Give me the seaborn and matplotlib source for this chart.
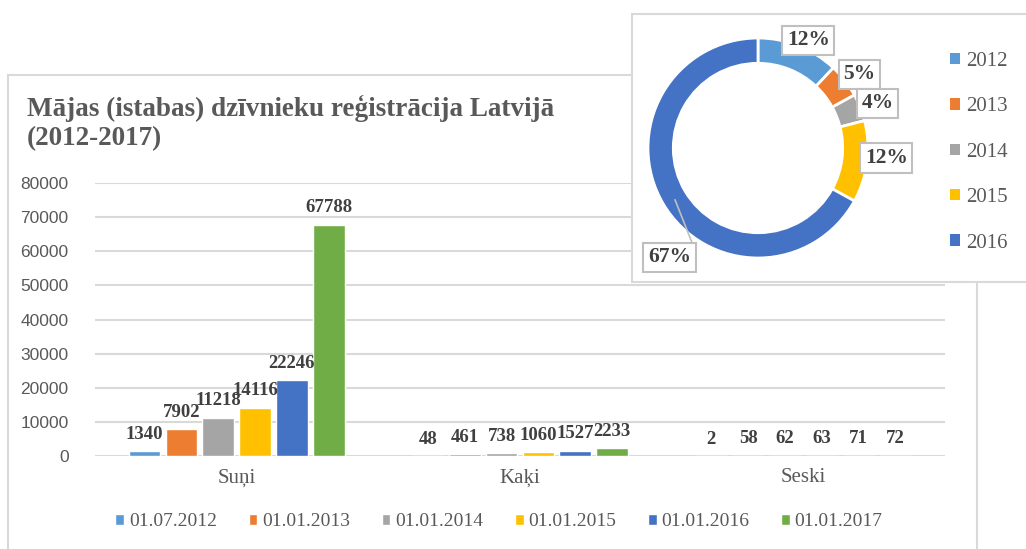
import numpy as np
import pandas as pd
import matplotlib
matplotlib.use("Agg")
import matplotlib.pyplot as plt
from matplotlib.patches import Rectangle, Patch
import seaborn as sns

# ---------------- data ----------------
categories = ["Suņi", "Kaķi", "Seski"]
dates = ["01.07.2012", "01.01.2013", "01.01.2014", "01.01.2015", "01.01.2016", "01.01.2017"]
values_suni = [1340, 7902, 11218, 14116, 22246, 67788]
values_kaki = [48, 461, 738, 1060, 1527, 2233]
values_seski = [2, 58, 62, 63, 71, 72]
yticks = [0, 10000, 20000, 30000, 40000, 50000, 60000, 70000, 80000]

donut_labels = ["2012", "2013", "2014", "2015", "2016"]
donut_values = [12, 5, 4, 12, 67]

title = "Mājas (istabas) dzīvnieku reģistrācija Latvijā\n(2012-2017)"

# ---------------- style ----------------
colors = ["#5B9BD5", "#ED7D31", "#A5A5A5", "#FFC000", "#4472C4", "#70AD47"]
GRAY = "#595959"
DARK = "#404040"
GRID = "#D9D9D9"
SERIF = ["Liberation Serif", "DejaVu Serif"]
SANS = ["Liberation Sans", "DejaVu Sans"]

sns.set_theme(style="white")
plt.rcParams["font.family"] = SERIF

W, H = 1026, 549
fig = plt.figure(figsize=(W / 100, H / 100), dpi=100)
fig.patch.set_facecolor("white")

def fx(px):
    return px / W

def fy(py):
    return 1 - py / H

# main chart frame
fig.patches.append(Rectangle((fx(8), fy(560)), fx(977 - 8), (560 - 75) / H,
                             transform=fig.transFigure, facecolor="white",
                             edgecolor=GRID, linewidth=1.5, zorder=-1))

# ---------------- bar chart ----------------
df = pd.DataFrame({
    "cat": np.repeat(categories, len(dates)),
    "date": dates * len(categories),
    "val": values_suni + values_kaki + values_seski,
})

ax = fig.add_axes([fx(95), fy(456), fx(945 - 95), (456 - 183) / H])
ax.set_facecolor("none")
sns.barplot(data=df, x="cat", y="val", hue="date", order=categories,
            hue_order=dates, palette=colors, width=0.78, gap=0.14,
            saturation=1, ax=ax, legend=True)
ax.set_xlim(-0.5, 2.5)
ax.set_ylim(0, 80000)
ax.set_yticks(yticks)
ax.set_yticklabels([str(v) for v in yticks], family=SANS, fontsize=12.5, color=GRAY)
ax.tick_params(axis="y", length=0, pad=19)
ax.tick_params(axis="x", length=0, pad=9)
for lbl in ax.get_xticklabels():
    lbl.set_fontsize(15)
    lbl.set_color(GRAY)
    lbl.set_family(SERIF)
ax.grid(axis="y", color=GRID, linewidth=1.5)
ax.set_axisbelow(True)
for s in ax.spines.values():
    s.set_visible(False)
ax.set_xlabel("")
ax.set_ylabel("")
for cont in ax.containers:
    ax.bar_label(cont, labels=[f"{int(v)}" for v in cont.datavalues],
                 padding=6, fontsize=13.5, fontweight="bold", color=DARK,
                 family=SERIF)

sns.move_legend(ax, "center", bbox_to_anchor=(fx(499), fy(522)),
                bbox_transform=fig.transFigure, ncol=6, frameon=False,
                title=None, fontsize=14, handlelength=0.45, handleheight=0.45,
                handletextpad=0.25, columnspacing=1.62)
for t in ax.get_legend().get_texts():
    t.set_color(GRAY)

fig.text(fx(27), fy(95), title, ha="left", va="top", fontsize=19.5,
         fontweight="bold", color=GRAY, family=SERIF, linespacing=1.2)

# ---------------- inset donut ----------------
fig.patches.append(Rectangle((fx(632), fy(282)), fx(1040 - 632), (282 - 14) / H,
                             transform=fig.transFigure, facecolor="white",
                             edgecolor=GRID, linewidth=1.5, zorder=2))

cx, cy, R = 758, 148, 110
lim = 1.35
side = 2 * lim * R
ax2 = fig.add_axes([fx(cx - side / 2), fy(cy + side / 2), fx(side), side / H], zorder=3)
wedges, _ = ax2.pie(donut_values, colors=colors[:5], startangle=90,
                    counterclock=False, radius=1,
                    wedgeprops=dict(width=0.23, edgecolor="white", linewidth=2))
ax2.set_xlim(-lim, lim)
ax2.set_ylim(-lim, lim)
ax2.set_aspect("equal")
ax2.axis("off")

# leader line for the big slice (drawn under the label box)
ax2.plot([-0.755, -0.6], [-0.47, -0.86], color="#BFBFBF", linewidth=1.2,
         clip_on=False, zorder=1)

# label placement (angle in degrees, radius) -- layout only
label_pos = [(65, 1.08), (36, 1.14), (20.5, 1.16), (-4.5, 1.17), (-129, 1.28)]
for w, v, (ang, r) in zip(wedges, donut_values, label_pos):
    a = np.deg2rad(ang)
    tx, ty = r * np.cos(a), r * np.sin(a)
    ax2.text(tx, ty, f"{v}%", ha="center", va="center", fontsize=15.5,
             fontweight="bold", color=DARK, family=SERIF, clip_on=False,
             zorder=5,
             bbox=dict(boxstyle="square,pad=0.22", facecolor="white",
                       edgecolor="#BFBFBF", linewidth=1.5))

handles = [Patch(facecolor=c, edgecolor="none") for c in colors[:5]]
leg2 = fig.legend(handles, donut_labels, loc="upper left",
                  bbox_to_anchor=(fx(931), fy(33)), frameon=False,
                  fontsize=15, handlelength=0.47, handleheight=0.47,
                  handletextpad=0.3, labelspacing=1.27)
leg2.set_zorder(4)
for t in leg2.get_texts():
    t.set_color(GRAY)

fig.savefig("out.png", dpi=100, facecolor="white")
